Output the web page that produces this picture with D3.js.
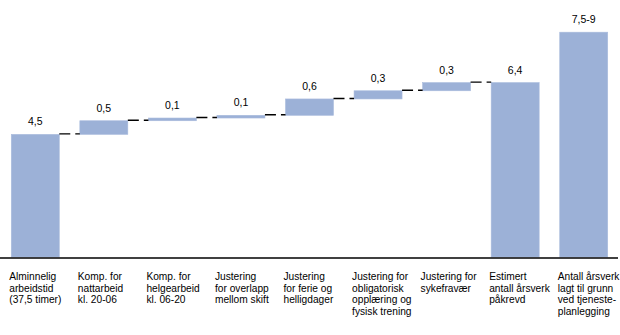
<!DOCTYPE html>
<html><head><meta charset="utf-8">
<script src="https://cdn.jsdelivr.net/npm/d3@7"></script>
<style>body{margin:0;background:#fff}svg{display:block}text{font-family:"Liberation Sans",Arial,sans-serif;fill:#000}</style>
</head><body><svg id="c" width="620" height="335"></svg>
<script>
const categories = [
  ["Alminnelig","arbeidstid","(37,5 timer)"],
  ["Komp. for","nattarbeid","kl. 20-06"],
  ["Komp. for","helgearbeid","kl. 06-20"],
  ["Justering","for overlapp","mellom skift"],
  ["Justering","for ferie og","helligdager"],
  ["Justering for","obligatorisk","opplæring og","fysisk trening"],
  ["Justering for","sykefravær"],
  ["Estimert","antall årsverk","påkrevd"],
  ["Antall årsverk","lagt til grunn","ved tjeneste-","planlegging"]
];
const values = [4.5, 0.5, 0.1, 0.1, 0.6, 0.3, 0.3, 6.4, 8.25];
const kinds = ["total","delta","delta","delta","delta","delta","delta","total","total"];
const valueLabels = ["4,5","0,5","0,1","0,1","0,6","0,3","0,3","6,4","7,5-9"];

const svg = d3.select("#c");
const x = d3.scaleBand().domain(d3.range(categories.length)).range([1, 618]).paddingInner(0.3).paddingOuter(0.15);
const y = d3.scaleLinear().domain([0, 9]).range([257, 11.75]);

let level = 0;
const bars = values.map((v, i) => {
  let y0, y1;
  if (kinds[i] === "total") { y0 = 0; y1 = v; level = v; }
  else { y0 = level; y1 = level + v; level = y1; }
  return {i, y0, y1, label: valueLabels[i]};
});

svg.selectAll("rect.bar").data(bars).join("rect")
  .attr("x", d => x(d.i)).attr("width", x.bandwidth())
  .attr("y", d => y(d.y1)).attr("height", d => y(d.y0) - y(d.y1))
  .attr("fill", "#9cb1d7").attr("stroke", "#a9bbdd").attr("stroke-width", 0.6);

// connectors
const conns = bars.slice(0, -2).map((d, k) => ({from: d.i, to: d.i + 1, v: d.y1}));
svg.selectAll("line.conn").data(conns).join("line")
  .attr("x1", d => x(d.from) + x.bandwidth()).attr("x2", d => x(d.to))
  .attr("y1", d => y(d.v) - 0.5).attr("y2", d => y(d.v) - 0.5)
  .attr("stroke", "#000").attr("stroke-width", 1.4).attr("stroke-dasharray", "11,5");

// value labels
svg.selectAll("text.val").data(bars).join("text")
  .attr("x", d => x(d.i) + x.bandwidth() / 2).attr("y", d => y(d.y1) - 9)
  .attr("text-anchor", "middle").attr("font-size", "10.5px").text(d => d.label);

// axis
const axis = d3.axisBottom(x).tickSize(0).tickFormat("");
const ag = svg.append("g").attr("transform", "translate(0,258)").call(axis);
ag.select(".domain").attr("d", "M0,0H618").attr("stroke", "#000").attr("stroke-width", 1.6);

// category labels
svg.selectAll("text.cat").data(categories).join("text")
  .attr("x", (d, i) => x(i) - 2).attr("y", 280)
  .attr("font-size", "10.2px")
  .each(function(lines){
    d3.select(this).selectAll("tspan").data(lines).join("tspan")
      .attr("x", d3.select(this).attr("x")).attr("dy", (l, j) => j ? 11.7 : 0).text(l => l);
  });
</script></body></html>
